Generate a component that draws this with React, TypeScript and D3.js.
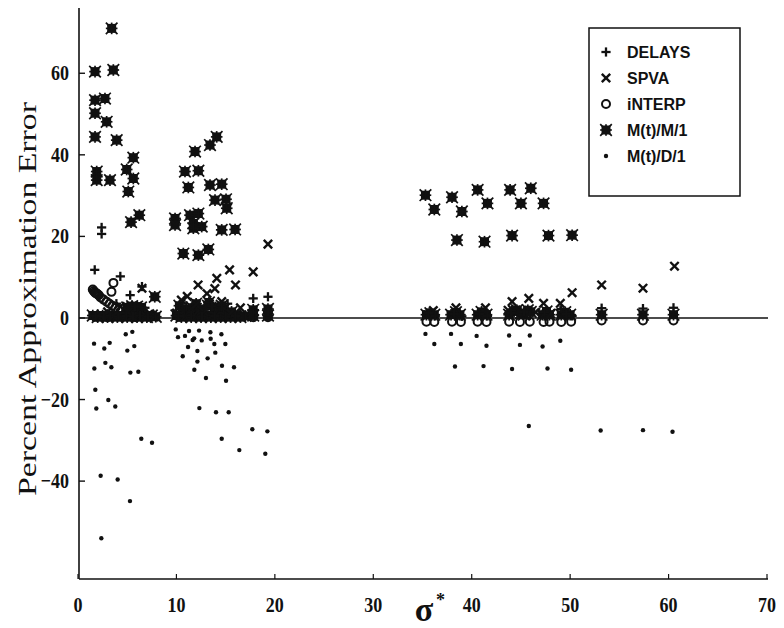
import React from 'react';
import * as d3 from 'd3';

const W = 784;
const H = 628;

const X_TICKS = [0, 10, 20, 30, 40, 50, 60, 70];
const Y_TICKS = [-40, -20, 0, 20, 40, 60];
const LEGEND_LABELS = ['DELAYS', 'SPVA', 'iNTERP', 'M(t)/M/1', 'M(t)/D/1'];

type P = [number, number];

const delays: P[] = [
  [2.4, 22.2], [2.4, 20.6], [1.7, 11.8], [4.3, 10.2], [5.3, 5.6], [6.5, 7.7], [3.9, 3.5], [5.8, 2.8], [6.8, 2.5],
  [1.8, 0.5], [2.6, 0.4], [3.3, 0.6], [4.1, 0.3], [4.9, 0.5], [5.6, 0.4], [6.3, 0.6], [7.1, 0.4],
  [17.8, 4.8], [19.3, 5.2], [11.0, 3.0], [13.6, 2.8], [15.2, 3.5], [10.2, 0.5], [11.5, 0.6], [12.6, 0.4],
  [13.9, 0.5], [15.0, 0.4], [16.0, 0.5], [17.8, 1.5], [19.3, 1.5],
  [35.6, 1.2], [36.3, 0.5], [38.2, 1.0], [39.0, 0.4], [40.8, 1.0], [41.6, 0.5], [44.0, 1.2], [45.3, 1.5],
  [45.9, 0.6], [47.4, 1.4], [49.1, 2.2], [49.6, 1.0], [50.2, 0.5], [53.2, 2.4], [57.4, 2.3], [60.5, 2.5],
];

const spva: P[] = [
  [4.3, 2.8], [6.5, 7.3], [3.0, 1.5], [5.1, 1.5], [7.3, 1.0], [2.0, 0.3], [3.6, 0.5], [5.5, 0.4], [6.9, 0.5],
  [19.3, 18.1], [15.4, 11.8], [17.8, 11.3], [14.1, 9.7], [12.2, 8.1], [16.0, 8.1], [13.9, 7.2], [13.1, 6.0],
  [10.5, 4.4], [11.1, 5.3], [12.0, 3.3], [14.6, 4.0], [16.5, 2.5], [10.0, 1.2], [12.8, 1.5], [15.5, 1.2],
  [50.2, 6.2], [44.1, 4.0], [45.8, 4.8], [47.3, 3.6], [49.0, 3.6], [38.4, 2.5], [41.4, 2.5], [36.1, 1.8],
  [43.7, 1.9], [53.2, 8.1], [57.4, 7.3], [60.6, 12.7], [35.5, 0.8], [46.5, 1.4], [48.0, 1.0],
];

const interp: P[] = [
  [1.5, 7.0], [1.6, 6.6], [1.7, 6.3], [1.8, 6.1], [1.9, 6.0], [2.0, 5.8], [2.1, 5.6], [2.3, 5.0], [2.6, 4.5],
  [2.9, 4.0], [3.2, 3.5], [3.5, 3.0], [3.8, 2.5], [4.1, 2.0], [3.4, 6.4], [3.6, 8.6],
  [1.9, 0.3], [3.0, 0.2], [4.5, 0.3], [5.9, 0.2], [7.2, 0.3],
  [10.3, 0.3], [11.4, 0.5], [12.5, 0.3], [13.5, 0.4], [14.5, 0.3], [15.5, 0.4], [17.8, 0.2], [19.3, 0.2],
  [35.4, -0.9], [36.2, -1.0], [38.0, -0.9], [38.9, -1.0], [40.6, -0.9], [41.5, -1.0], [43.8, -0.9], [44.9, -1.0],
  [45.9, -0.9], [47.3, -1.0], [47.9, -0.9], [49.1, -1.0], [50.1, -0.9], [53.2, -0.6], [57.4, -0.6], [60.5, -0.6],
];

const mm1: P[] = [
  [3.42, 71], [1.73, 60.4], [3.59, 60.8], [1.73, 53.4], [2.74, 53.8], [1.73, 50.2], [2.91, 48.1], [1.73, 44.4],
  [3.93, 43.6], [5.62, 39.3], [4.95, 36.4], [1.9, 35.9], [1.9, 33.8], [3.25, 33.8], [5.62, 34.2], [5.11, 31.0],
  [6.23, 25.2], [5.39, 23.5], [7.8, 5.2],
  [1.5, 0.6], [2.0, 0.2], [2.5, 0.6], [3.0, 0.2], [3.5, 0.6], [4.0, 0.2], [4.5, 0.6], [5.0, 0.2], [5.5, 0.6],
  [6.0, 0.2], [6.5, 0.6], [7.0, 0.2], [7.5, 0.6], [7.9, 0.3],
  [5.0, 2.6], [5.5, 2.9], [6.0, 2.8], [6.4, 2.6],
  [14.09, 44.4], [13.41, 42.4], [11.89, 40.8], [10.87, 35.9], [12.23, 36.1], [11.21, 32.0], [13.41, 32.6],
  [14.6, 32.8], [13.92, 28.9], [15.04, 29.1], [15.11, 26.9], [9.86, 24.4], [9.86, 22.8], [11.38, 25.2],
  [12.23, 25.6], [11.72, 23.2], [12.57, 22.4], [11.72, 22.0], [14.6, 21.6], [15.96, 21.7], [10.7, 15.8],
  [12.23, 15.4], [13.24, 16.8],
  [10.0, 0.6], [10.5, 0.2], [11.0, 0.6], [11.5, 0.2], [12.0, 0.6], [12.5, 0.2], [13.0, 0.6], [13.5, 0.2],
  [14.0, 0.6], [14.5, 0.2], [15.0, 0.6], [15.5, 0.2], [16.0, 0.6], [16.5, 0.2], [17.0, 0.5],
  [10.8, 1.8], [11.6, 2.5], [12.4, 2.2], [13.2, 3.0], [14.0, 2.6], [14.8, 2.0], [15.6, 1.5],
  [10.3, 3.0], [12.0, 3.5], [13.3, 3.8], [14.6, 3.0], [17.8, 0.6], [19.3, 0.6], [19.3, 2.2], [17.8, 2.0],
  [35.3, 30.1], [36.2, 26.6], [38.0, 29.6], [39.0, 26.1], [40.6, 31.4], [41.6, 28.1], [43.9, 31.4], [45.0, 28.1],
  [46.0, 31.8], [47.3, 28.1], [38.5, 19.1], [41.3, 18.7], [44.1, 20.2], [47.8, 20.2], [50.2, 20.3],
  [35.4, 0.8], [35.8, 1.2], [36.2, 0.8], [37.9, 0.8], [38.4, 1.4], [38.8, 0.8], [40.6, 0.8], [41.0, 1.5], [41.5, 0.8],
  [43.8, 0.8], [44.3, 1.6], [44.6, 1.9], [45.0, 1.2], [45.3, 0.8], [45.7, 1.9], [46.0, 1.5], [47.2, 0.8],
  [47.6, 1.6], [47.9, 0.8], [49.1, 0.8], [49.5, 1.4], [50.0, 0.8], [53.2, 0.8], [57.4, 0.8], [60.5, 0.8],
];

const md1: P[] = [
  [4.85, -4.0], [5.52, -3.4], [1.63, -6.3], [2.67, -7.5], [3.22, -6.1], [5.01, -8.0], [5.72, -6.9], [1.66, -12.4],
  [2.78, -11.0], [3.39, -12.1], [5.32, -13.4], [6.13, -13.2], [1.76, -17.6], [3.08, -20.1], [1.86, -22.2],
  [3.79, -21.7], [6.43, -29.6], [7.52, -30.6], [2.3, -38.7], [4.03, -39.6], [5.28, -44.9], [2.37, -54.0],
  [9.93, -2.8], [11.28, -3.2], [12.3, -3.1], [13.45, -3.5], [14.57, -4.0], [10.16, -4.7], [10.87, -4.4],
  [11.65, -5.4], [11.8, -5.0], [12.57, -5.5], [13.48, -5.1], [13.85, -6.4], [14.97, -6.4], [11.18, -7.1],
  [12.13, -8.1], [13.95, -8.5], [10.64, -9.4], [13.17, -9.9], [12.13, -10.7], [14.63, -11.7], [15.85, -12.1],
  [11.82, -12.7], [13.0, -14.7], [15.04, -15.4], [12.33, -22.1], [14.02, -23.1], [15.31, -23.1], [17.71, -27.3],
  [19.24, -27.8], [14.6, -29.6], [16.39, -32.4], [19.03, -33.3],
  [35.3, -3.9], [36.2, -6.4], [37.9, -3.9], [38.9, -6.4], [40.5, -4.4], [41.5, -6.8], [43.8, -4.3], [44.9, -6.6],
  [45.9, -4.3], [47.2, -7.0], [49.0, -5.6], [38.3, -11.9], [41.2, -11.8], [44.1, -12.5], [47.7, -12.4],
  [50.1, -12.7], [45.8, -26.5], [53.1, -27.6], [57.4, -27.5], [60.4, -27.9],
];

const INK = '#111';

function Plus({ cx, cy }: { cx: number; cy: number }) {
  const s = 4.6;
  return (
    <g stroke={INK} strokeWidth={2.3}>
      <line x1={cx - s} y1={cy} x2={cx + s} y2={cy} />
      <line x1={cx} y1={cy - s} x2={cx} y2={cy + s} />
    </g>
  );
}

function Cross({ cx, cy }: { cx: number; cy: number }) {
  const s = 4.2;
  return (
    <g stroke={INK} strokeWidth={2.4}>
      <line x1={cx - s} y1={cy - s} x2={cx + s} y2={cy + s} />
      <line x1={cx - s} y1={cy + s} x2={cx + s} y2={cy - s} />
    </g>
  );
}

function Ring({ cx, cy }: { cx: number; cy: number }) {
  return <circle cx={cx} cy={cy} r={4} fill="none" stroke={INK} strokeWidth={2} />;
}

function Star({ cx, cy }: { cx: number; cy: number }) {
  const s = 5.8;
  return (
    <g stroke={INK} strokeWidth={1.7}>
      <rect x={cx - 4.5} y={cy - 4.5} width={9} height={9} fill={INK} stroke="none" />
      <line x1={cx - s} y1={cy - s} x2={cx + s} y2={cy + s} />
      <line x1={cx - s} y1={cy + s} x2={cx + s} y2={cy - s} />
      <line x1={cx - s} y1={cy} x2={cx + s} y2={cy} />
      <line x1={cx} y1={cy - s} x2={cx} y2={cy + s} />
    </g>
  );
}

function Dot({ cx, cy }: { cx: number; cy: number }) {
  return <circle cx={cx} cy={cy} r={2.2} fill={INK} />;
}

const MARKERS = [Plus, Cross, Ring, Star, Dot];

export default function App() {
  const x = d3.scaleLinear().domain([0, 70]).range([78, 767]);
  const y = d3.scaleLinear().domain([-64, 76]).range([579, 8]);
  const left = x(0) + 1;
  const right = x(70) + 1;
  const top = y(76);
  const bottom = y(-64);

  const series: { data: P[]; M: typeof Plus }[] = [
    { data: md1, M: Dot },
    { data: mm1, M: Star },
    { data: interp, M: Ring },
    { data: spva, M: Cross },
    { data: delays, M: Plus },
  ];

  const serif = '"Liberation Serif", "Times New Roman", serif';
  const sans = '"Liberation Sans", Arial, Helvetica, sans-serif';

  const legY = [52, 78, 104, 130, 156];

  return (
    <svg width={W} height={H} style={{ position: 'absolute', left: 0, top: 0, background: '#fff' }}>
      <rect x={0} y={0} width={W} height={H} fill="#fff" />
      <line x1={left} x2={right} y1={y(0)} y2={y(0)} stroke={INK} strokeWidth={1.6} />
      <line x1={left} x2={left} y1={top} y2={bottom} stroke={INK} strokeWidth={1.6} />
      <line x1={left} x2={right} y1={bottom} y2={bottom} stroke={INK} strokeWidth={1.6} />
      {Y_TICKS.map((t) => (
        <g key={'y' + t}>
          <line x1={left} x2={left + 6} y1={y(t)} y2={y(t)} stroke={INK} strokeWidth={1.4} />
          <text
            transform={`translate(69,${y(t) + 7}) scale(0.9,1.1)`}
            textAnchor="end"
            fontFamily={serif}
            fontWeight="bold"
            fontSize={20}
            fill={INK}
          >
            {t < 0 ? '\u2212' + Math.abs(t) : String(t)}
          </text>
        </g>
      ))}
      {X_TICKS.map((t) => (
        <g key={'x' + t}>
          <line x1={x(t)} x2={x(t)} y1={bottom} y2={bottom - 5} stroke={INK} strokeWidth={1.2} />
          <text
            transform={`translate(${x(t)},612) scale(0.9,1.1)`}
            textAnchor="middle"
            fontFamily={serif}
            fontWeight="bold"
            fontSize={20}
            fill={INK}
          >
            {String(t)}
          </text>
        </g>
      ))}
      <text
        transform={`translate(36,299) rotate(-90)`}
        textAnchor="middle"
        fontFamily={serif}
        fontSize={25}
        fill={INK}
        textLength={394}
        lengthAdjust="spacingAndGlyphs"
      >
        Percent Approximation Error
      </text>
      <text x={424} y={621} fontFamily={serif} fontSize={34} fontWeight="bold" fill={INK} textAnchor="middle">
        σ
      </text>
      <text x={436} y={606} fontFamily={serif} fontSize={18} fontWeight="bold" fill={INK}>
        *
      </text>
      {series.map((s, si) => (
        <g key={si}>
          {s.data.map((d, i) => (
            <s.M key={i} cx={x(d[0])} cy={y(d[1])} />
          ))}
        </g>
      ))}
      <rect x={589} y={28} width={151} height={168} fill="#fff" stroke={INK} strokeWidth={1.5} />
      {LEGEND_LABELS.map((lab, i) => {
        const M = MARKERS[i];
        return (
          <g key={lab}>
            <M cx={606} cy={legY[i]} />
            <text x={627} y={legY[i] + 6} fontFamily={sans} fontWeight="bold" fontSize={16} fill={INK}>
              {lab}
            </text>
          </g>
        );
      })}
    </svg>
  );
}
